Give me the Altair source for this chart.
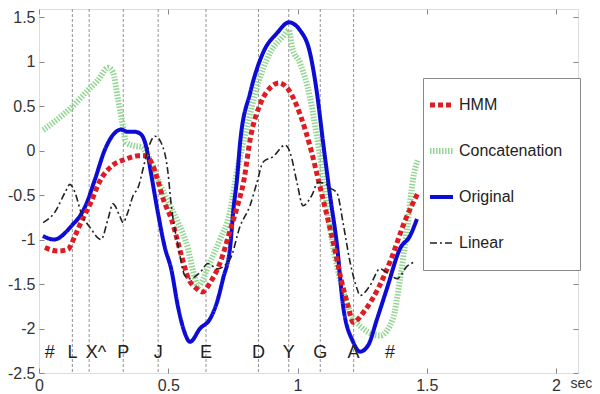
import altair as alt
import pandas as pd

# ---- data ----
series_names = ["HMM", "Concatenation", "Original", "Linear"]

hmm_t = [0.023, 0.073, 0.112, 0.139, 0.162, 0.201, 0.236, 0.279, 0.333, 0.384,
         0.411, 0.434, 0.461, 0.481, 0.512, 0.551, 0.578, 0.609, 0.632, 0.663,
         0.702, 0.741, 0.768, 0.791, 0.819, 0.857, 0.896, 0.927, 0.966, 1.013,
         1.052, 1.083, 1.118, 1.141, 1.168, 1.195, 1.215, 1.257, 1.312, 1.362,
         1.413, 1.467]
hmm_v = [-1.09, -1.13, -1.11, -0.96, -0.81, -0.58, -0.34, -0.18, -0.10, -0.06,
         -0.06, -0.13, -0.35, -0.55, -0.77, -1.18, -1.44, -1.55, -1.59, -1.48,
         -1.25, -0.88, -0.62, -0.36, 0.16, 0.53, 0.71, 0.76, 0.68, 0.38,
         0.01, -0.36, -0.78, -1.07, -1.44, -1.74, -1.93, -1.81, -1.55, -1.22,
         -0.81, -0.47]

conc_t = [0.016, 0.062, 0.124, 0.190, 0.228, 0.267, 0.286, 0.306, 0.325, 0.337,
          0.371, 0.395, 0.429, 0.468, 0.507, 0.538, 0.576, 0.596, 0.615, 0.662,
          0.700, 0.739, 0.762, 0.805, 0.843, 0.894, 0.944, 0.967, 0.979, 1.010,
          1.048, 1.075, 1.099, 1.126, 1.164, 1.203, 1.253, 1.319, 1.369, 1.397,
          1.424, 1.447, 1.466]
conc_v = [0.23, 0.33, 0.48, 0.68, 0.79, 0.93, 0.88, 0.57, 0.27, 0.09,
          0.05, 0.04, -0.10, -0.38, -0.62, -0.81, -1.10, -1.35, -1.52, -1.25,
          -1.00, -0.69, -0.30, 0.27, 0.71, 1.10, 1.28, 1.35, 1.16, 0.98,
          0.60, 0.16, -0.29, -0.88, -1.44, -1.81, -2.00, -2.08, -1.89, -1.44,
          -0.88, -0.32, -0.10]

orig_t = [0.015, 0.058, 0.131, 0.162, 0.180, 0.217, 0.255, 0.294, 0.317, 0.344,
          0.371, 0.395, 0.414, 0.433, 0.460, 0.486, 0.512, 0.538, 0.564, 0.584,
          0.623, 0.662, 0.689, 0.712, 0.740, 0.751, 0.766, 0.778, 0.817, 0.867,
          0.921, 0.967, 1.010, 1.048, 1.075, 1.099, 1.126, 1.153, 1.176, 1.215,
          1.242, 1.273, 1.308, 1.346, 1.397, 1.435, 1.462]
orig_v = [-0.96, -1.00, -0.83, -0.72, -0.62, -0.32, 0.01, 0.20, 0.235, 0.21,
          0.21, 0.18, 0.05, -0.25, -0.70, -1.08, -1.34, -1.76, -2.05, -2.15,
          -2.00, -1.89, -1.70, -1.44, -1.07, -0.69, -0.32, 0.09, 0.65, 1.10,
          1.32, 1.44, 1.35, 1.10, 0.65, 0.09, -0.51, -1.07, -1.74, -2.15,
          -2.26, -2.19, -1.89, -1.55, -1.10, -0.96, -0.77]

lin_t = [0.016, 0.062, 0.101, 0.120, 0.139, 0.162, 0.201, 0.240, 0.267, 0.286,
         0.313, 0.325, 0.344, 0.365, 0.383, 0.403, 0.422, 0.449, 0.472, 0.499,
         0.511, 0.538, 0.565, 0.584, 0.623, 0.654, 0.689, 0.739, 0.778, 0.816,
         0.843, 0.867, 0.905, 0.952, 0.971, 0.998, 1.021, 1.056, 1.079, 1.106,
         1.126, 1.153, 1.176, 1.203, 1.230, 1.242, 1.280, 1.319, 1.346, 1.385,
         1.424, 1.455]
lin_v = [-0.81, -0.69, -0.47, -0.38, -0.47, -0.69, -0.88, -1.00, -0.77, -0.60,
         -0.74, -0.81, -0.69, -0.50, -0.42, -0.20, 0.02, 0.16, 0.09, -0.25,
         -0.60, -1.07, -1.41, -1.44, -1.37, -1.27, -1.33, -1.22, -0.85, -0.62,
         -0.36, -0.13, -0.07, 0.06, -0.02, -0.36, -0.62, -0.50, -0.36, -0.37,
         -0.42, -0.48, -0.81, -1.25, -1.55, -1.63, -1.52, -1.33, -1.37, -1.44,
         -1.30, -1.25]

boundary_t = [0.129, 0.194, 0.326, 0.461, 0.646, 0.849, 0.966, 1.088, 1.217]
phone_labels = ["#", "L", "X^", "P", "J", "E", "D", "Y", "G", "A", "#"]
phone_t = [0.042, 0.130, 0.220, 0.326, 0.461, 0.646, 0.849, 0.966, 1.088, 1.217, 1.358]
phone_y = -2.28

x_ticks = [0, 0.5, 1, 1.5, 2]
y_ticks = [-2.5, -2, -1.5, -1, -0.5, 0, 0.5, 1, 1.5]

# ---- styles ----
colors = ["#dc1e24", "#93d693", "#0c0cd4", "#222222"]
dashes = [[5, 3], [1.5, 1.5], [1, 0], [7, 3, 2, 3]]
widths = [5, 6, 4, 1.6]
FONT = "Liberation Sans"

rows = []
for name, ts, vs in [("HMM", hmm_t, hmm_v), ("Concatenation", conc_t, conc_v),
                     ("Original", orig_t, orig_v), ("Linear", lin_t, lin_v)]:
    for t, v in zip(ts, vs):
        rows.append({"series": name, "t": t, "v": v})
df = pd.DataFrame(rows)
rules_df = pd.DataFrame({"t": boundary_t})
phones_df = pd.DataFrame({"label": phone_labels, "t": phone_t, "v": [phone_y] * len(phone_t)})

xs = alt.Scale(domain=[0, 2.085], nice=False, zero=False)
ys = alt.Scale(domain=[-2.5, 1.59], nice=False, zero=False)

common_axis = dict(offset=-5, tickSize=5, tickColor="#888", domain=False, grid=False,
                   labelFont=FONT, labelFontSize=16, labelColor="#333", labelPadding=4)

x_bottom = alt.Axis(orient="bottom", values=x_ticks, labelExpr="datum.value + ''",
                    labelFlush=False, title="sec", titleX=531, titleY=19,
                    titleAlign="left", titleBaseline="alphabetic", titleFont=FONT,
                    titleFontSize=14, titleFontWeight="normal", titleColor="#333",
                    **common_axis)
y_left = alt.Axis(orient="left", values=y_ticks, labelExpr="datum.value + ''",
                  title=None, labelFlush=False, **common_axis)
x_top = alt.Axis(orient="top", values=x_ticks, labels=False, title=None,
                 offset=-5, tickSize=5, tickColor="#888", domain=False, grid=False)
y_right = alt.Axis(orient="right", values=y_ticks, labels=False, title=None,
                   offset=-5, tickSize=5, tickColor="#888", domain=False, grid=False)

legend = alt.Legend(title=" ", titleOrient="right", titlePadding=14,
                    orient="none", legendX=384, legendY=69,
                    strokeColor="#888", fillColor="white", padding=4,
                    clipHeight=46, rowPadding=0, symbolType="stroke",
                    symbolSize=529, symbolOffset=0, labelOffset=3,
                    labelFont=FONT, labelFontSize=16, labelColor="#222",
                    direction="vertical")

enc_color = alt.Color("series:O", scale=alt.Scale(type="ordinal", domain=series_names, range=colors), legend=legend)
enc_dash = alt.StrokeDash("series:O", scale=alt.Scale(type="ordinal", domain=series_names, range=dashes), legend=legend)
enc_width = alt.StrokeWidth("series:O", scale=alt.Scale(type="ordinal", domain=series_names, range=widths), legend=legend)


def series_layer(name, xaxis, yaxis):
    return alt.Chart(df).transform_filter(alt.datum.series == name).mark_line(
        interpolate="monotone", strokeCap="butt", strokeJoin="round"
    ).encode(
        x=alt.X("t:Q", scale=xs, axis=xaxis),
        y=alt.Y("v:Q", scale=ys, axis=yaxis),
        color=enc_color, strokeDash=enc_dash, strokeWidth=enc_width,
        order=alt.Order("t:Q"),
    )


rules = alt.Chart(rules_df).mark_rule(color="#777", strokeWidth=0.8, strokeDash=[3, 2]).encode(
    x=alt.X("t:Q", scale=xs, axis=None)
)

layers = [
    rules,
    series_layer("Concatenation", x_bottom, y_left),
    series_layer("Original", x_top, y_right),
    series_layer("HMM", None, None),
    series_layer("Linear", None, None),
]

phones = alt.Chart(phones_df).mark_text(font=FONT, fontSize=18, color="#222",
                                         align="center", baseline="middle").encode(
    x=alt.X("t:Q", scale=xs, axis=None),
    y=alt.Y("v:Q", scale=ys, axis=None),
    text="label:N",
)
layers.append(phones)

chart = alt.layer(*layers).resolve_axis(x="independent", y="independent").properties(
    width=539, height=364,
    autosize=alt.AutoSizeParams(type="none"),
    padding={"left": 31, "top": 1, "right": 14, "bottom": 22},
).configure_view(stroke="#888", strokeWidth=1).configure(font=FONT)

chart.save("out.html", embed_options={"renderer": "svg", "actions": False})
